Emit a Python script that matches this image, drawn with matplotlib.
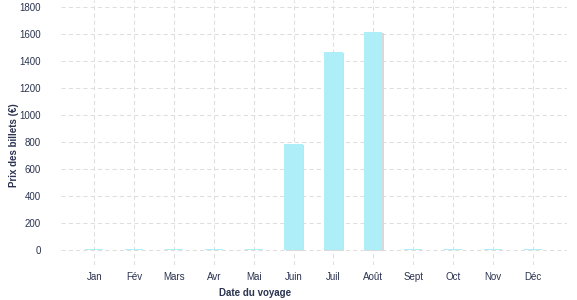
import matplotlib
matplotlib.use("Agg")
import matplotlib.pyplot as plt
import matplotlib.patheffects as pe

months = ["Jan", "Fév", "Mars", "Avr", "Mai", "Juin", "Juil", "Août", "Sept", "Oct", "Nov", "Déc"]
prices = [5, 5, 5, 5, 5, 790, 1468, 1615, 5, 5, 5, 5]
yticks = [0, 200, 400, 600, 800, 1000, 1200, 1400, 1600, 1800]

plt.rcParams['font.family'] = ['Liberation Sans', 'DejaVu Sans']
text_color = '#2b3350'

fig = plt.figure(figsize=(5.77, 3.0), dpi=100)
ax = fig.add_axes([61/577, 1 - 265/300, 506/577, 265/300])

x = list(range(len(months)))
bars = ax.bar(x, prices, width=0.46, color='#adeef8', linewidth=0, zorder=3,
              path_effects=[pe.SimplePatchShadow(offset=(0.8, -0.8), shadow_rgbFace='#d9d9d9', alpha=1.0), pe.Normal()])

ax.set_xlim(-0.836, 11.86)
ax.set_ylim(-110, 1854)
ax.set_xticks(x)
ax.set_xticklabels(months)
ax.set_yticks(yticks)
ax.grid(True, color='#dedede', linestyle=(0, (4, 3)), linewidth=0.75, zorder=0)
ax.set_axisbelow(True)
for s in ax.spines.values():
    s.set_visible(False)
ax.tick_params(axis='both', length=0, labelsize=7, colors=text_color)
ax.tick_params(axis='y', pad=14.5)
ax.tick_params(axis='x', pad=5)

ax.set_xlabel("Date du voyage", fontsize=7, fontweight='bold', color=text_color)
ax.xaxis.set_label_coords((255 - 61) / 506, -28 / 265)
ax.xaxis.label.set_va('center')
ax.set_ylabel("Prix des billets (€)", fontsize=7, fontweight='bold', color=text_color)
ax.yaxis.set_label_coords((14 - 61) / 506, (265 - 145) / 265)
ax.yaxis.label.set_va('center')

fig.savefig("out.png", dpi=100)
